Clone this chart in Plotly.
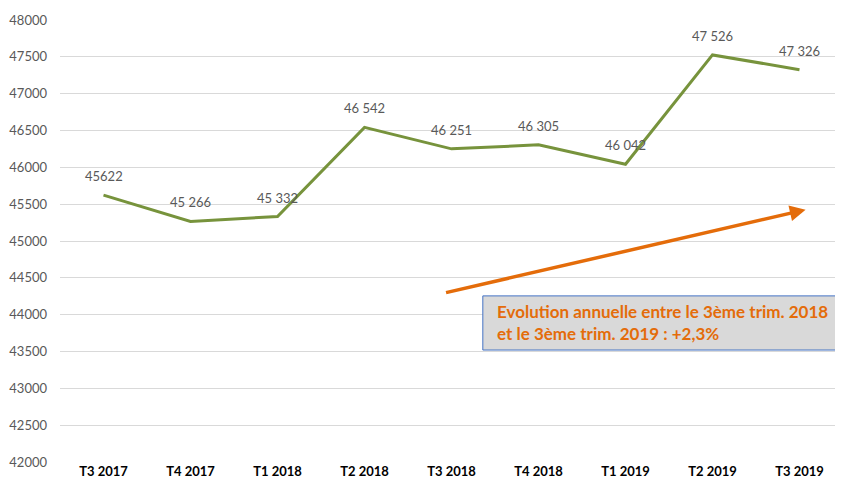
import plotly.graph_objects as go

categories = ["T3 2017", "T4 2017", "T1 2018", "T2 2018", "T3 2018", "T4 2018", "T1 2019", "T2 2019", "T3 2019"]
values = [45622, 45266, 45332, 46542, 46251, 46305, 46042, 47526, 47326]
labels = ["45622", "45 266", "45 332", "46 542", "46 251", "46 305", "46 042", "47 526", "47 326"]
y_ticks = list(range(42000, 48001, 500))

xs = list(range(len(categories)))

fig = go.Figure()
fig.add_trace(go.Scatter(
    x=xs, y=values, mode="lines",
    line=dict(color="#77933C", width=3),
    hoverinfo="skip", showlegend=False,
))

for xi, v, lab in zip(xs, values, labels):
    fig.add_annotation(
        x=xi, y=v, xref="x", yref="y", text=lab, showarrow=False,
        yshift=19, yanchor="middle",
        font=dict(family="Lato, Open Sans, sans-serif", size=13, color="#595959"),
    )

# Arrow (trend)
fig.add_annotation(
    x=8.07, y=45425, ax=3.92, ay=44295,
    xref="x", yref="y", axref="x", ayref="y",
    showarrow=True, arrowhead=2, arrowsize=0.9, arrowwidth=3.5,
    arrowcolor="#E46C0A", text="",
)

# Text box
fig.add_shape(type="rect", xref="x", yref="y",
              x0=4.36, x1=8.6, y0=43520, y1=44255,
              fillcolor="#D9D9D9", line=dict(color="#4472C4", width=1), layer="above")
fig.add_annotation(
    x=4.50, y=43890, xref="x", yref="y", xanchor="left", yanchor="middle",
    text="<b>Evolution annuelle entre le 3ème trim. 2018<br>et le 3ème trim. 2019 : +2,3%</b>",
    showarrow=False, align="left",
    font=dict(family="Lato, Open Sans, sans-serif", size=17, color="#E46C0A"),
)

fig.update_layout(
    width=835, height=478,
    margin=dict(l=52, r=0, t=12, b=24),
    plot_bgcolor="white", paper_bgcolor="white",
    xaxis=dict(
        tickmode="array", tickvals=xs,
        ticktext=["<b>%s</b>" % c for c in categories],
        range=[-0.5, 8.5], showgrid=False, zeroline=False, automargin=False,
        tickfont=dict(family="Lato, Open Sans, sans-serif", size=13, color="#000000"),
        ticks="", showline=False,
    ),
    yaxis=dict(
        range=[42000, 48000], tickvals=y_ticks, ticktext=[str(v) for v in y_ticks],
        showgrid=True, gridcolor="#D9D9D9", gridwidth=1, zeroline=False, automargin=False,
        tickfont=dict(family="Lato, Open Sans, sans-serif", size=13, color="#595959"),
        ticks="", showline=False, ticklabelstandoff=12,
    ),
)

fig.write_html("out.html")
